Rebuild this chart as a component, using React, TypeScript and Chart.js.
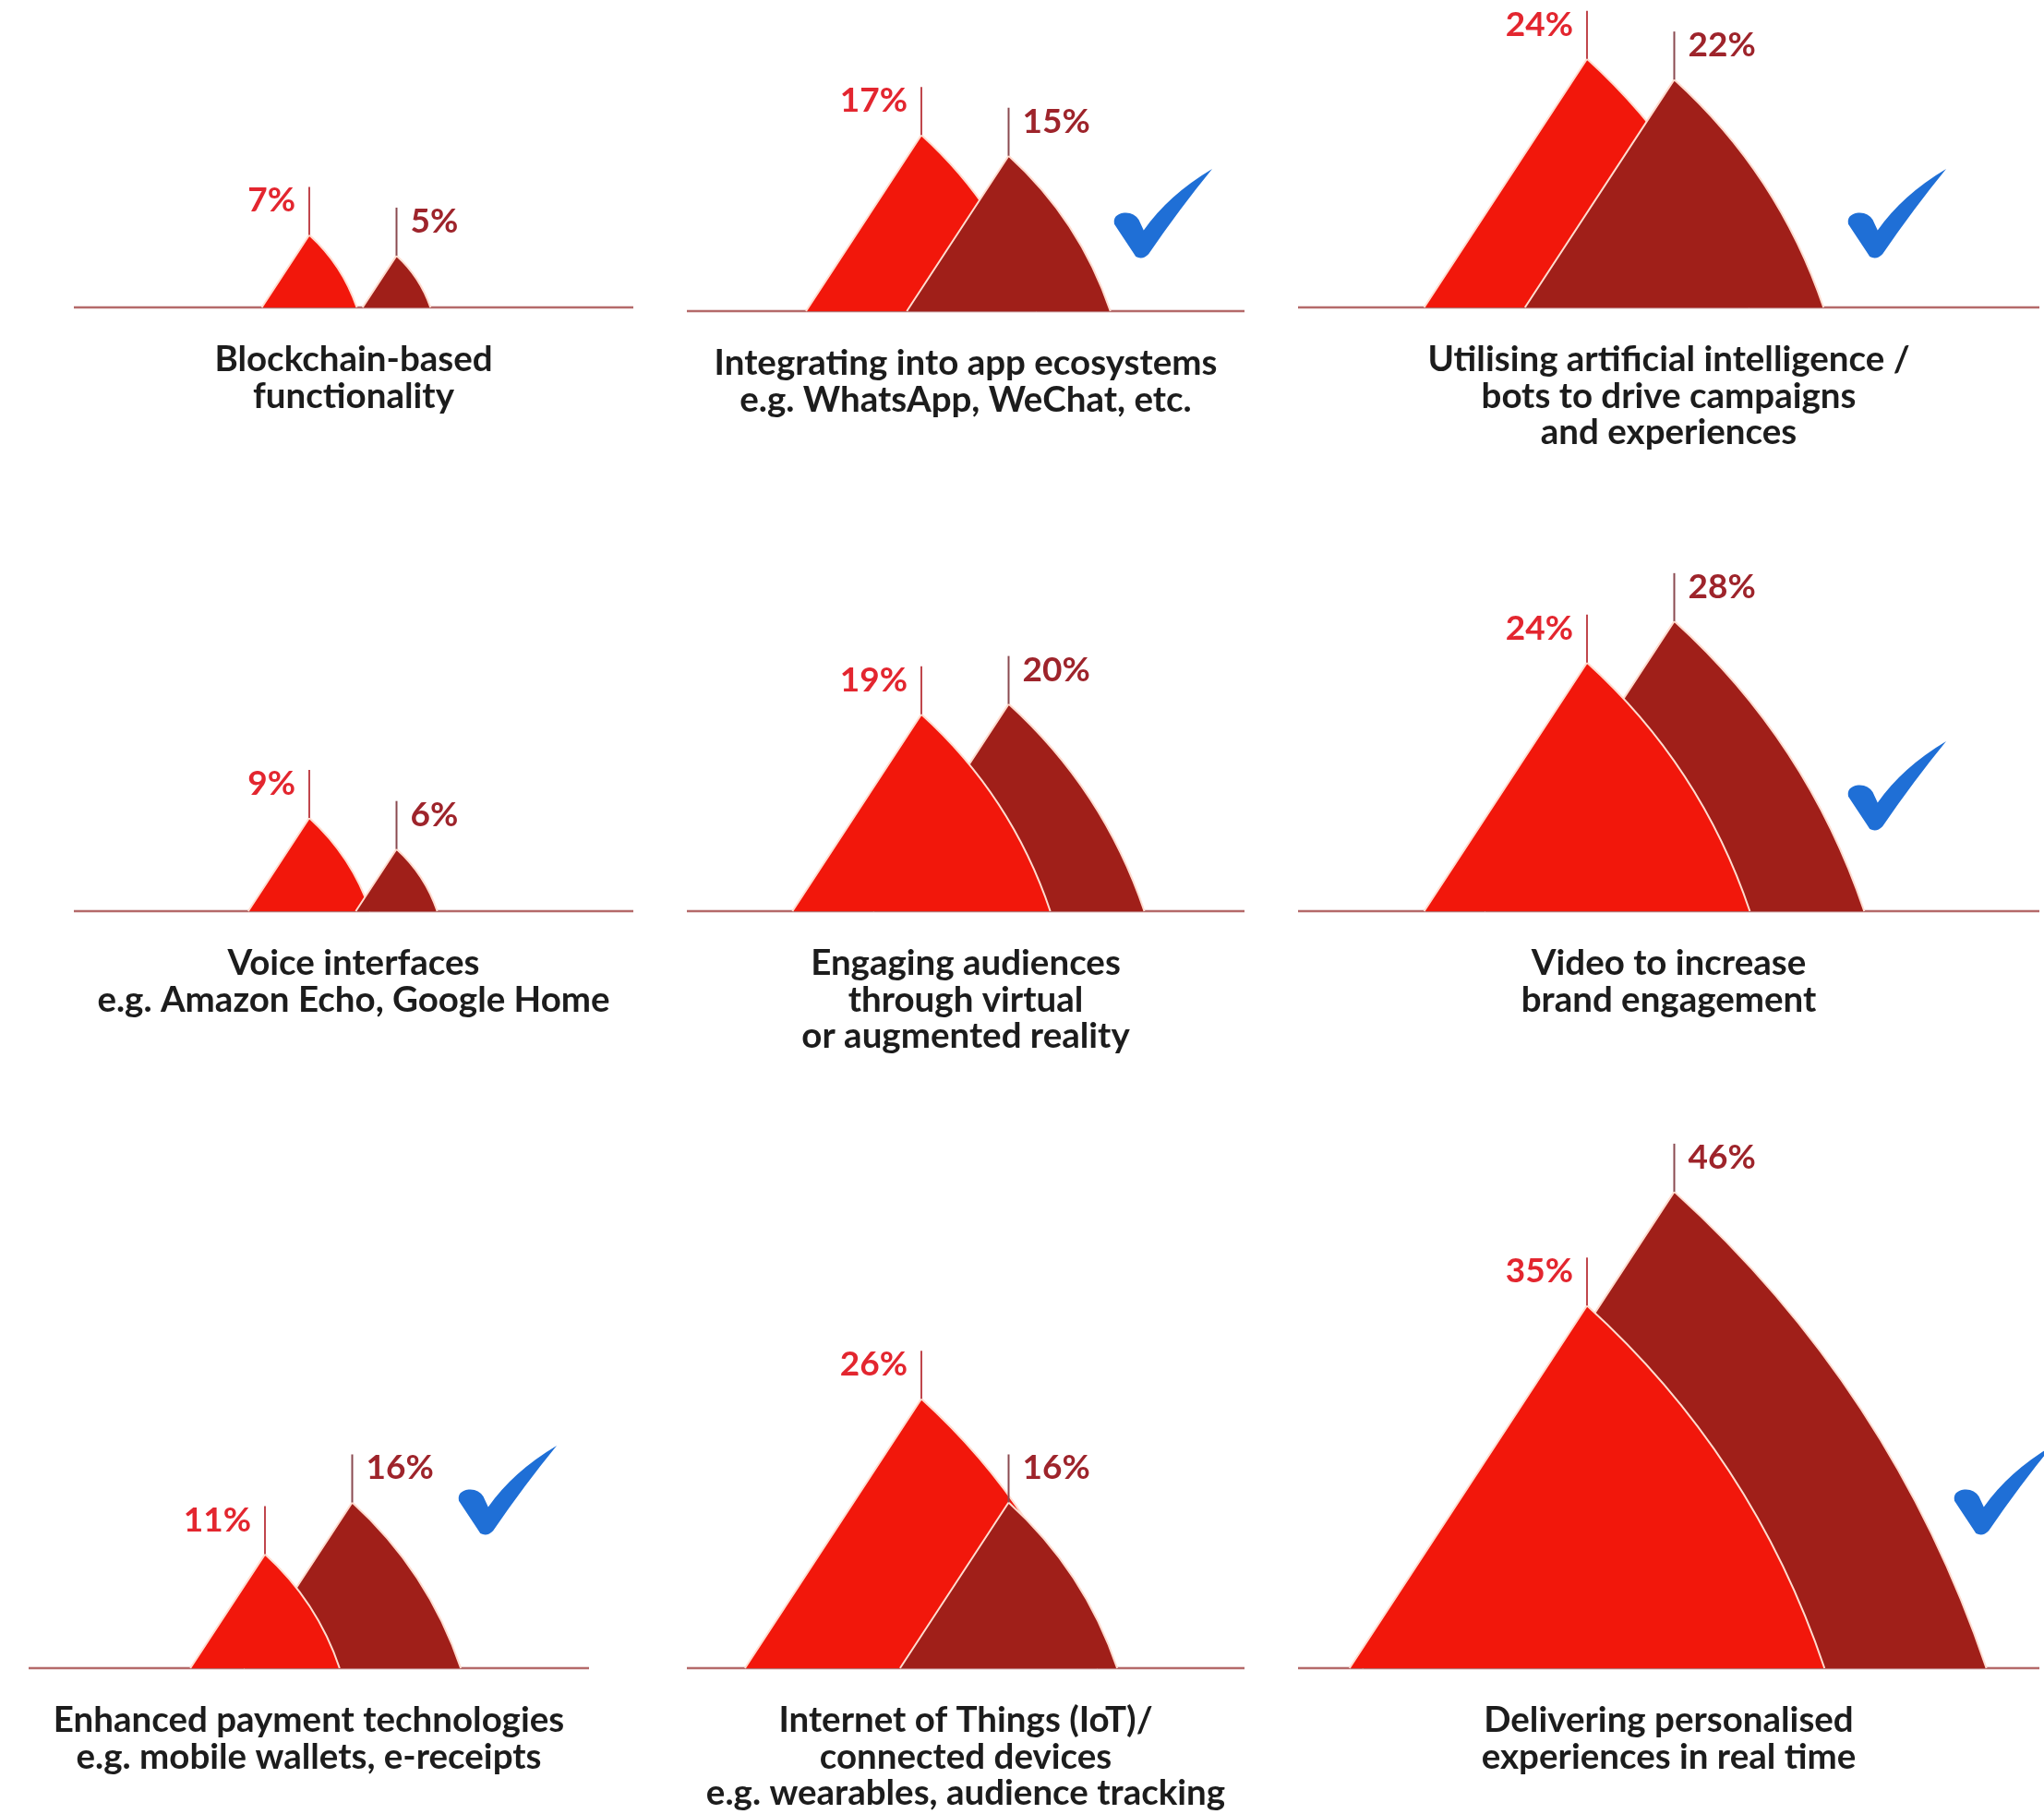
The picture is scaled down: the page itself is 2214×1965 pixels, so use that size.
import React, { useEffect, useRef } from 'react';
import { Chart, registerables } from 'chart.js';

Chart.register(...registerables);

// ---------------- DATA ----------------
const CATEGORIES: string[][] = [
  ['Blockchain-based', 'functionality'],
  ['Integrating into app ecosystems', 'e.g. WhatsApp, WeChat, etc.'],
  ['Utilising artificial intelligence /', 'bots to drive campaigns', 'and experiences'],
  ['Voice interfaces', 'e.g. Amazon Echo, Google Home'],
  ['Engaging audiences', 'through virtual', 'or augmented reality'],
  ['Video to increase', 'brand engagement'],
  ['Enhanced payment technologies', 'e.g. mobile wallets, e-receipts'],
  ['Internet of Things (IoT)/', 'connected devices', 'e.g. wearables, audience tracking'],
  ['Delivering personalised', 'experiences in real time'],
];
const SERIES_NAMES = ['Series A', 'Series B'];
const SERIES_A = [7, 17, 24, 9, 19, 24, 11, 26, 35];
const SERIES_B = [5, 15, 22, 6, 20, 28, 16, 16, 46];
const CHECKED = [false, true, true, false, false, true, true, false, true];

// ---------------- STYLE / LAYOUT ----------------
const RED = '#F2170B';
const DARK = '#A01F19';
const RED_TEXT = '#E3262F';
const DARK_TEXT = '#9E242B';
const RED_LEADER = '#C0464C';
const DARK_LEADER = '#8A4A50';
const BASE_COLOR = '#B46A6A';
const OUTLINE = '#FFDCCF';
const CHECK_BLUE = '#1F6FD6';
const FONT = 'Lato, "Open Sans", sans-serif';

const PX_PER_PCT = 11.22; // pixels per percentage point
const PEAK_GAP = 94.5; // pixels between the two peaks (one x unit)
const FIN_SLOPE = 0.655; // half base width / height
const FIN_BULGE = 0.13; // control offset of the curved edge, relative to chord
const TITLE_SIZE = 38.5;
const TITLE_LINE = 39.6;
const TITLE_PAD_TOP = 37;
const SIDE_PAD = 20;

type PanelLayout = {
  left: number;
  right: number;
  baseline: number;
  top: number;
  peak: number;
  check: [number, number] | null;
};

const LAYOUT: PanelLayout[] = [
  { left: 80, right: 686, baseline: 333, top: 0, peak: 335, check: null },
  { left: 744, right: 1348, baseline: 337, top: 0, peak: 998, check: [463, -59] },
  { left: 1406, right: 2209, baseline: 333, top: 0, peak: 1719, check: [596, -55] },
  { left: 80, right: 686, baseline: 987, top: 500, peak: 335, check: null },
  { left: 744, right: 1348, baseline: 987, top: 500, peak: 998, check: null },
  { left: 1406, right: 2209, baseline: 987, top: 500, peak: 1719, check: [596, -89] },
  { left: 31, right: 638, baseline: 1807, top: 1160, peak: 287, check: [466, -146] },
  { left: 744, right: 1348, baseline: 1807, top: 1160, peak: 998, check: null },
  { left: 1406, right: 2209, baseline: 1807, top: 1160, peak: 1719, check: [711, -146] },
];

function drawCheck(ctx: CanvasRenderingContext2D, x: number, bottom: number) {
  const w = 106;
  const h = 95;
  const P = (u: number, v: number): [number, number] => [x + u * w, bottom - h + v * h];
  ctx.save();
  ctx.fillStyle = CHECK_BLUE;
  ctx.beginPath();
  ctx.moveTo(...P(0.22, 1.0));
  ctx.quadraticCurveTo(...P(0.1, 0.8), ...P(0.0, 0.63));
  ctx.quadraticCurveTo(...P(-0.02, 0.52), ...P(0.1, 0.5));
  ctx.quadraticCurveTo(...P(0.2, 0.49), ...P(0.25, 0.58));
  ctx.lineTo(...P(0.3, 0.7));
  ctx.quadraticCurveTo(...P(0.55, 0.3), ...P(1.0, 0.0));
  ctx.quadraticCurveTo(...P(0.67, 0.45), ...P(0.35, 0.97));
  ctx.quadraticCurveTo(...P(0.29, 1.04), ...P(0.22, 1.0));
  ctx.closePath();
  ctx.fill();
  ctx.restore();
}

function finPath(ctx: CanvasRenderingContext2D, px: number, py: number, y0: number, close: boolean) {
  const h = y0 - py;
  const hw = FIN_SLOPE * h;
  const lx = px - hw;
  const rx = px + hw;
  const mx = (px + rx) / 2;
  const my = (py + y0) / 2;
  const dx = rx - px;
  const dy = y0 - py;
  const len = Math.hypot(dx, dy) || 1;
  const nx = dy / len;
  const ny = -dx / len;
  const bulge = FIN_BULGE * len;
  ctx.beginPath();
  ctx.moveTo(lx, y0);
  ctx.lineTo(px, py);
  ctx.quadraticCurveTo(mx + nx * bulge, my + ny * bulge, rx, y0);
  if (close) ctx.closePath();
}

const finPlugin = {
  id: 'sharkFins',
  beforeDatasetsDraw(chart: any) {
    const ctx: CanvasRenderingContext2D = chart.ctx;
    const { left, right } = chart.chartArea;
    const y0 = chart.scales.y.getPixelForValue(0);
    ctx.save();
    ctx.strokeStyle = BASE_COLOR;
    ctx.lineWidth = 2.5;
    ctx.beginPath();
    ctx.moveTo(left, y0);
    ctx.lineTo(right, y0);
    ctx.stroke();
    ctx.restore();
  },
  afterDatasetsDraw(chart: any) {
    const ctx: CanvasRenderingContext2D = chart.ctx;
    const y0 = chart.scales.y.getPixelForValue(0);
    const items = chart.data.datasets.map((ds: any, i: number) => {
      const pt = chart.getDatasetMeta(i).data[0];
      return { i, x: pt.x, y: pt.y, v: ds.data[0].y, color: ds.backgroundColor };
    });
    const order = [...items].sort((a: any, b: any) => b.v - a.v);
    ctx.save();
    ctx.lineJoin = 'round';
    for (const it of order) {
      finPath(ctx, it.x, it.y, y0, true);
      ctx.fillStyle = it.color;
      ctx.fill();
      finPath(ctx, it.x, it.y, y0, false);
      ctx.strokeStyle = OUTLINE;
      ctx.lineWidth = 2;
      ctx.stroke();
    }
    // leaders + labels
    for (const it of items) {
      ctx.strokeStyle = it.i === 0 ? RED_LEADER : DARK_LEADER;
      ctx.lineWidth = 2;
      ctx.beginPath();
      ctx.moveTo(it.x, it.y);
      ctx.lineTo(it.x, it.y - 52);
      ctx.stroke();
      ctx.font = `bold 37px ${FONT}`;
      ctx.textBaseline = 'middle';
      if (it.i === 0) {
        ctx.fillStyle = RED_TEXT;
        ctx.textAlign = 'right';
        ctx.fillText(`${it.v}%`, it.x - 15, it.y - 37);
      } else {
        ctx.fillStyle = DARK_TEXT;
        ctx.textAlign = 'left';
        ctx.fillText(`${it.v}%`, it.x + 15, it.y - 37);
      }
    }
    ctx.restore();
    const opts = chart.options.plugins.sharkFins;
    if (opts && opts.check) {
      drawCheck(ctx, chart.chartArea.left + opts.check[0], y0 + opts.check[1]);
    }
  },
};

function Panel({ index }: { index: number }) {
  const ref = useRef<HTMLCanvasElement>(null);
  const L = LAYOUT[index];
  const lines = CATEGORIES[index];
  const areaW = L.right - L.left;
  const width = areaW + 2 * SIDE_PAD;
  const height = Math.ceil(L.baseline - L.top + lines.length * TITLE_LINE + TITLE_PAD_TOP + 2);
  const padBottom = height - (L.baseline - L.top) - lines.length * TITLE_LINE - TITLE_PAD_TOP;

  useEffect(() => {
    if (!ref.current) return;
    const pR = L.peak - L.left;
    const chart = new Chart(ref.current, {
      type: 'scatter',
      data: {
        datasets: [
          {
            label: SERIES_NAMES[0],
            data: [{ x: 0, y: SERIES_A[index] }],
            backgroundColor: RED,
            pointRadius: 0,
            pointHoverRadius: 0,
          },
          {
            label: SERIES_NAMES[1],
            data: [{ x: 1, y: SERIES_B[index] }],
            backgroundColor: DARK,
            pointRadius: 0,
            pointHoverRadius: 0,
          },
        ],
      },
      options: {
        animation: false,
        responsive: false,
        maintainAspectRatio: false,
        devicePixelRatio: 1,
        events: [],
        layout: { padding: { left: SIDE_PAD, right: SIDE_PAD, top: 0, bottom: 0 } },
        scales: {
          x: { type: 'linear', display: false, min: -pR / PEAK_GAP, max: (areaW - pR) / PEAK_GAP },
          y: { type: 'linear', display: false, min: 0, max: (L.baseline - L.top) / PX_PER_PCT },
        },
        plugins: {
          legend: { display: false },
          tooltip: { enabled: false },
          title: {
            display: true,
            position: 'bottom',
            align: 'center',
            text: lines,
            color: '#1c1c1c',
            font: { family: FONT, size: TITLE_SIZE, weight: 'bold', lineHeight: TITLE_LINE / TITLE_SIZE },
            padding: { top: TITLE_PAD_TOP, bottom: padBottom },
          },
          sharkFins: { check: CHECKED[index] ? L.check : null },
        } as any,
      },
      plugins: [finPlugin],
    } as any);
    return () => chart.destroy();
  }, [index]);

  return (
    <canvas
      ref={ref}
      width={width}
      height={height}
      style={{ position: 'absolute', left: L.left - SIDE_PAD, top: L.top, width, height }}
    />
  );
}

export default function App() {
  return (
    <div
      style={{
        position: 'absolute',
        left: 0,
        top: 0,
        width: 2214,
        height: 1965,
        overflow: 'hidden',
        background: '#ffffff',
      }}
    >
      {CATEGORIES.map((_, i) => (
        <Panel key={i} index={i} />
      ))}
    </div>
  );
}
